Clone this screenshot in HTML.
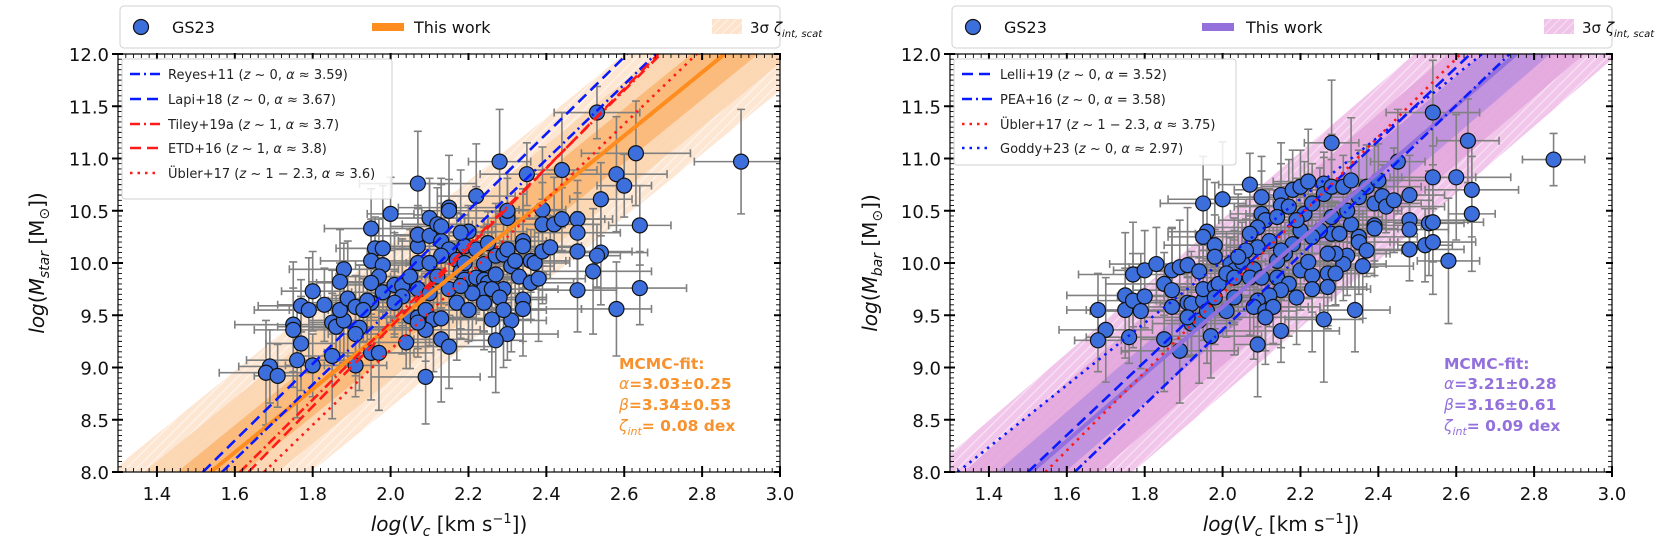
<!DOCTYPE html>
<html><head><meta charset="utf-8"><style>
html,body{margin:0;padding:0;background:#fff;width:1660px;height:549px;overflow:hidden;position:relative}
svg{display:block;font-family:"DejaVu Sans","Liberation Sans",sans-serif}
</style></head><body>
<svg id="fig" xmlns="http://www.w3.org/2000/svg" width="1660" height="549" viewBox="0 0 1660 549" style="position:absolute;left:0;top:0">
<defs>
<pattern id="hatchO" patternUnits="userSpaceOnUse" width="7" height="7" patternTransform="rotate(45)">
<rect width="7" height="7" fill="#fde6d2"/><line x1="0" y1="0" x2="0" y2="7" stroke="#fff" stroke-width="2.5" opacity="0.6"/></pattern>
<pattern id="hatchP" patternUnits="userSpaceOnUse" width="7" height="7" patternTransform="rotate(45)">
<rect width="7" height="7" fill="#f1c6ea"/><line x1="0" y1="0" x2="0" y2="7" stroke="#fff" stroke-width="2.5" opacity="0.5"/></pattern>
<clipPath id="clipL"><rect x="118" y="54" width="662" height="418"/></clipPath>
<clipPath id="clipR"><rect x="950" y="54" width="662" height="418"/></clipPath>
</defs>
</svg>
<script>
// ---------- data ----------
const starX=[1.69,1.68,1.71,1.75,1.75,1.77,1.76,1.80,1.77,1.79,1.80,1.83,1.85,1.86,1.85,1.88,1.87,1.89,1.91,1.88,1.87,1.95,2.00,2.07,1.96,1.98,1.95,1.98,1.97,1.95,1.98,2.01,2.03,1.95,1.94,1.93,1.92,1.91,1.95,1.97,1.91,2.04,2.05,2.07,2.09,2.11,2.13,2.13,2.15,2.09,2.07,2.07,2.07,2.10,2.10,2.12,2.15,2.15,2.13,2.15,2.17,2.18,2.19,2.20,2.22,2.19,2.22,2.24,2.25,2.27,2.24,2.21,2.17,2.20,2.24,2.27,2.29,2.30,2.31,2.29,2.26,2.28,2.34,2.34,2.36,2.37,2.32,2.33,2.36,2.39,2.41,2.38,2.34,2.34,2.26,2.31,2.30,2.27,2.30,2.30,2.28,2.35,2.39,2.39,2.42,2.44,2.44,2.48,2.48,2.48,2.54,2.54,2.53,2.52,2.48,2.58,2.58,2.60,2.53,2.63,2.64,2.64,2.13,2.19,2.22,2.10,2.05,2.03,2.01,2.15,2.18,2.12,2.07,2.10,2.25,2.18,2.13,2.24,2.29,2.09,2.07,2.90];
const starY=[9.01,8.95,8.92,9.41,9.36,9.23,9.07,9.02,9.59,9.55,9.73,9.60,9.43,9.39,9.11,9.45,9.55,9.66,9.58,9.94,9.82,10.33,10.47,10.76,10.14,10.14,10.02,9.98,9.87,9.81,9.72,9.79,9.78,9.62,9.64,9.55,9.38,9.32,9.14,9.14,9.02,9.24,9.49,9.48,9.55,9.46,9.47,9.27,9.20,8.91,10.00,10.16,10.27,10.26,10.43,10.37,10.53,10.50,10.21,10.13,10.03,9.92,10.16,10.30,10.64,9.84,9.86,9.84,9.81,9.89,9.75,9.71,9.62,9.55,9.99,10.07,10.08,10.13,9.97,9.75,9.75,9.67,10.21,10.16,10.02,10.00,10.02,9.87,9.81,10.11,10.15,9.85,9.65,9.56,9.46,9.45,9.32,9.26,10.43,10.50,10.97,10.85,10.51,10.37,10.37,10.89,10.42,10.42,10.29,10.11,10.61,10.10,10.07,9.92,9.74,9.56,10.85,10.74,11.44,11.05,10.36,9.76,10.07,10.00,10.13,10.00,9.87,9.68,9.62,9.75,9.78,9.87,9.75,9.71,10.19,10.29,10.35,9.62,9.55,9.36,9.43,10.97];
const barX=[1.68,1.70,1.68,1.75,1.75,1.77,1.79,1.80,1.76,1.77,1.80,1.83,1.85,1.85,1.87,1.87,1.89,1.91,1.94,1.91,1.92,1.95,1.87,1.89,1.92,1.94,1.97,1.95,1.98,1.99,2.02,2.03,2.05,2.08,1.96,1.95,1.98,1.98,1.95,2.00,2.07,2.10,2.15,2.18,2.20,2.22,2.26,2.28,2.15,2.17,2.10,2.11,2.14,2.21,2.23,2.26,2.28,2.31,2.33,2.37,2.35,2.39,2.41,2.42,2.44,2.48,2.40,2.45,2.54,2.60,2.63,2.64,2.64,2.48,2.48,2.53,2.54,2.52,2.54,2.48,2.58,2.39,2.39,2.35,2.35,2.37,2.36,2.32,2.31,2.29,2.28,2.25,2.23,2.20,2.18,2.16,2.14,2.12,2.09,2.07,2.09,2.06,2.04,2.01,2.03,2.07,2.10,2.14,2.17,2.20,2.23,2.27,2.29,2.23,2.27,2.19,2.15,2.12,2.09,2.08,2.11,2.13,2.09,2.15,2.26,2.34,2.11,2.03,1.98,2.01,1.96,1.91,2.22,2.27,2.30,2.33,2.19,2.15,2.28,2.32,2.85,2.54];
const barY=[9.55,9.36,9.26,9.69,9.55,9.64,9.54,9.68,9.29,9.89,9.93,9.99,9.27,9.80,9.74,9.93,9.96,9.98,9.92,9.62,9.61,9.64,9.58,9.16,9.42,9.45,9.30,9.75,9.77,9.80,9.99,9.93,10.01,9.94,10.30,10.25,10.17,10.06,10.57,10.61,10.75,10.63,10.65,10.70,10.73,10.78,10.76,11.15,10.55,10.54,10.47,10.41,10.44,10.47,10.57,10.66,10.73,10.73,10.79,10.73,10.63,10.57,10.64,10.54,10.60,10.65,10.79,10.97,10.82,10.82,11.17,10.70,10.47,10.41,10.32,10.38,10.39,10.17,10.20,10.13,10.02,10.36,10.33,10.25,10.20,10.12,9.97,10.07,9.99,10.09,10.28,10.31,10.25,10.31,10.18,10.09,10.02,10.21,10.34,10.28,10.15,10.12,10.06,9.90,9.86,9.86,9.86,9.86,9.80,9.93,9.88,9.90,9.90,9.75,9.77,9.67,9.74,9.69,9.64,9.58,9.54,9.58,9.22,9.35,9.46,9.55,9.48,9.67,9.67,9.54,9.54,9.48,10.01,10.09,10.28,10.37,10.41,10.12,10.44,10.50,10.99,11.44];
const xErr=[0.08,0.12,0.06,0.15,0.10,0.09,0.13,0.07,0.11,0.14];
const yErr=[0.35,0.50,0.30,0.60,0.40,0.45,0.55,0.30,0.25,0.50,0.38];
const xTicks=[1.4,1.6,1.8,2.0,2.2,2.4,2.6,2.8,3.0];
const yTicks=[8.0,8.5,9.0,9.5,10.0,10.5,11.0,11.5,12.0];
const fitL={alpha:3.03,beta:3.34,sig:0.26};
const fitR={alpha:3.21,beta:3.16,sig:0.28};
const refNamesL=["Reyes+11","Lapi+18","Tiley+19a","ETD+16","Übler+17"];
const refAlphaL=[3.59,3.67,3.7,3.8,3.6];
const refX8L=[1.567,1.518,1.613,1.635,1.675];
const refNamesR=["Lelli+19","PEA+16","Übler+17","Goddy+23"];
const refAlphaR=[3.52,3.58,3.75,2.97];
const refX8R=[1.50,1.62,1.545,1.32];

const NS="http://www.w3.org/2000/svg";
const svg=document.getElementById('fig');
function el(tag,attrs,parent){const e=document.createElementNS(NS,tag);for(const k in attrs)e.setAttribute(k,attrs[k]);(parent||svg).appendChild(e);return e;}

// clip polygon (data coords) to the axes box
function clipPoly(pts,xmin,xmax,ymin,ymax){
  const edges=[[p=>p[0]>=xmin,(a,b)=>{const t=(xmin-a[0])/(b[0]-a[0]);return [xmin,a[1]+t*(b[1]-a[1])];}],
               [p=>p[0]<=xmax,(a,b)=>{const t=(xmax-a[0])/(b[0]-a[0]);return [xmax,a[1]+t*(b[1]-a[1])];}],
               [p=>p[1]>=ymin,(a,b)=>{const t=(ymin-a[1])/(b[1]-a[1]);return [a[0]+t*(b[0]-a[0]),ymin];}],
               [p=>p[1]<=ymax,(a,b)=>{const t=(ymax-a[1])/(b[1]-a[1]);return [a[0]+t*(b[0]-a[0]),ymax];}]];
  let out=pts;
  edges.forEach(([inside,inter])=>{
    const inp=out;out=[];
    for(let i=0;i<inp.length;i++){
      const cur=inp[i],prev=inp[(i+inp.length-1)%inp.length];
      if(inside(cur)){if(!inside(prev))out.push(inter(prev,cur));out.push(cur);}
      else if(inside(prev))out.push(inter(prev,cur));
    }
  });
  return out;
}
// line y = a*x + b restricted to the box
function lineSeg(a,b){
  let xa=Math.max(1.3,(8-b)/a),xb=Math.min(3.0,(12-b)/a);
  return [[xa,a*xa+b],[xb,a*xb+b]];
}

function panel(P){
  const x0=P.left,w=662,yTop=54,h=418;
  const X=v=>x0+(v-1.3)/1.7*w;
  const Y=v=>yTop+(12-v)/4*h;
  const g=el('g',{});
  
  
  const cg=el('g',{'clip-path':'url(#'+P.clip+')'},g);
  const fills=[P.hatch,P.c2,P.c1];
  [3,2,1].forEach((k,i)=>{
    const d=k*P.fit.sig, a=P.fit.alpha, b=P.fit.beta;
    const xa=1.0,xb=3.3;
    const raw=[[xa,a*xa+b+d],[xb,a*xb+b+d],[xb,a*xb+b-d],[xa,a*xa+b-d]];
    const pts=clipPoly(raw,1.3,3.0,8,12).map(p=>X(p[0])+','+Y(p[1])).join(' ');
    const pg=el('polygon',{points:pts,fill:fills[i],opacity:i==0?1:0.85},cg);
    
    
  });
  const eg=el('g',{stroke:'#808080','stroke-width':1.6,fill:'none'},cg);
  P.xs.forEach((xv,i)=>{
    const ex=xErr[i%xErr.length],ey=yErr[i%yErr.length];
    const cx=X(xv),cy=Y(P.ys[i]);
    const xl=X(xv-ex),xr=X(xv+ex),yt=Y(P.ys[i]+ey),yb=Y(P.ys[i]-ey);
    const p=el('path',{d:`M${xl},${cy}H${xr}M${xl},${cy-4}v8M${xr},${cy-4}v8M${cx},${yt}V${yb}M${cx-4},${yt}h8M${cx-4},${yb}h8`},eg);
    
    
  });
  P.xs.forEach((xv,i)=>{
    const c=el('circle',{cx:X(xv),cy:Y(P.ys[i]),r:7.5,fill:'#3d6fdc',stroke:'#111','stroke-width':1.2},cg);
    
    
  });
  const fs=lineSeg(P.fit.alpha,P.fit.beta);
  const fl=el('line',{x1:X(fs[0][0]),y1:Y(fs[0][1]),x2:X(fs[1][0]),y2:Y(fs[1][1]),stroke:P.lc,'stroke-width':4},cg);
  
  
  P.refA.forEach((a,i)=>{
    const x8=P.refX8[i];
    const s=lineSeg(a,8-a*x8);
    const l=el('line',{x1:X(s[0][0]),y1:Y(s[0][1]),x2:X(s[1][0]),y2:Y(s[1][1]),stroke:P.refCol[i],'stroke-width':2.6,'stroke-dasharray':P.refDash[i]},cg);
    
    
  });
  el('rect',{x:x0,y:yTop,width:w,height:h,fill:'none',stroke:'#000','stroke-width':1.2},g);
  const tg=el('g',{stroke:'#000'},g);
  for(let v=1.3;v<=3.0001;v+=0.02){const xx=X(v);el('path',{d:`M${xx},${yTop+h}v-4M${xx},${yTop}v4`,'stroke-width':0.9},tg);}
  for(let v=8;v<=12.0001;v+=0.05){const yy=Y(v);el('path',{d:`M${x0},${yy}h4M${x0+w},${yy}h-4`,'stroke-width':0.9},tg);}
  xTicks.forEach(v=>{const xx=X(v);el('path',{d:`M${xx},${yTop+h+5}v-11M${xx},${yTop-1}v7`,'stroke-width':2},tg);
    const t=el('text',{x:xx,y:yTop+h+28,'text-anchor':'middle','font-size':18,fill:'#111',stroke:'none'},g);t.textContent=v.toFixed(1);
    });
  yTicks.forEach(v=>{const yy=Y(v);el('path',{d:`M${x0-6},${yy}h11M${x0+w+1},${yy}h-7`,'stroke-width':2},tg);
    const t=el('text',{x:x0-9,y:yy+7,'text-anchor':'end','font-size':18,fill:'#111',stroke:'none'},g);t.textContent=v.toFixed(1);
    });
  return {X,Y};
}

const L=panel({id:'stellar',left:118,clip:'clipL',xs:starX,ys:starY,fit:fitL,hatch:'url(#hatchO)',c2:'#fcd3ae',c1:'#f9b673',lc:'#ff8c1e',
  refA:refAlphaL,refX8:refX8L,refNames:refNamesL,refCol:['#0a1aff','#0a1aff','#ff1a1a','#ff1a1a','#ff1a1a'],
  refDash:['10,4,2,4','11,6','10,4,2,4','11,6','2.5,5']});
const R=panel({id:'baryonic',left:950,clip:'clipR',xs:barX,ys:barY,fit:fitR,hatch:'url(#hatchP)',c2:'#e3a6dc',c1:'#bb8ede',lc:'#9370db',
  refA:refAlphaR,refX8:refX8R,refNames:refNamesR,refCol:['#0a1aff','#0a1aff','#ff1a1a','#0a1aff'],
  refDash:['11,6','10,4,2,4','2.5,5','2.5,5']});
</script>

<svg style="position:absolute;left:0;top:0" width="1660" height="549" xmlns="http://www.w3.org/2000/svg" font-family="DejaVu Sans, Liberation Sans, sans-serif">
<defs>
<pattern id="hatchO2" patternUnits="userSpaceOnUse" width="6" height="6" patternTransform="rotate(45)"><rect width="6" height="6" fill="#fde3cc"/><line x1="0" y1="0" x2="0" y2="6" stroke="#fff" stroke-width="2" opacity="0.6"/></pattern>
<pattern id="hatchP2" patternUnits="userSpaceOnUse" width="6" height="6" patternTransform="rotate(45)"><rect width="6" height="6" fill="#f0c4e8"/><line x1="0" y1="0" x2="0" y2="6" stroke="#fff" stroke-width="2" opacity="0.5"/></pattern>
</defs>
<g>
<rect x="120" y="6" width="660" height="42" rx="4" fill="#fff" stroke="#d0d0d0"/>
<circle cx="141" cy="27" r="7.5" fill="#3d6fdc" stroke="#111" stroke-width="1.2"/>
<text x="172" y="33" font-size="16" fill="#111">GS23</text>
<rect x="372" y="23" width="32" height="8" fill="#ff8c1e"/>
<text x="414" y="33" font-size="16" fill="#111">This work</text>
<rect x="712" y="19" width="30" height="15" fill="url(#hatchO2)"/>
<text x="750" y="33" font-size="15" fill="#111">3σ <tspan font-style="italic">ζ</tspan><tspan font-size="10" dy="4" font-style="italic">int, scat</tspan></text>
</g>
<g>
<rect x="952" y="6" width="660" height="42" rx="4" fill="#fff" stroke="#d0d0d0"/>
<circle cx="973" cy="27" r="7.5" fill="#3d6fdc" stroke="#111" stroke-width="1.2"/>
<text x="1004" y="33" font-size="16" fill="#111">GS23</text>
<rect x="1202" y="23" width="32" height="8" fill="#9370db"/>
<text x="1246" y="33" font-size="16" fill="#111">This work</text>
<rect x="1544" y="19" width="30" height="15" fill="url(#hatchP2)"/>
<text x="1582" y="33" font-size="15" fill="#111">3σ <tspan font-style="italic">ζ</tspan><tspan font-size="10" dy="4" font-style="italic">int, scat</tspan></text>
</g>
<g font-size="13" fill="#222">
<rect x="122" y="59" width="270" height="140" rx="3" fill="#fff" fill-opacity="0.85" stroke="#d0d0d0"/>
<line x1="130" y1="74" x2="160" y2="74" stroke="#0a1aff" stroke-width="2.6" stroke-dasharray="10,4,2,4"/>
<text x="168" y="79">Reyes+11 (<tspan font-style="italic">z</tspan> ~ 0, <tspan font-style="italic">α</tspan> ≈ 3.59)</text>
<line x1="130" y1="99" x2="160" y2="99" stroke="#0a1aff" stroke-width="2.6" stroke-dasharray="11,6"/>
<text x="168" y="104">Lapi+18 (<tspan font-style="italic">z</tspan> ~ 0, <tspan font-style="italic">α</tspan> ≈ 3.67)</text>
<line x1="130" y1="124" x2="160" y2="124" stroke="#ff1a1a" stroke-width="2.6" stroke-dasharray="10,4,2,4"/>
<text x="168" y="129">Tiley+19a (<tspan font-style="italic">z</tspan> ~ 1, <tspan font-style="italic">α</tspan> ≈ 3.7)</text>
<line x1="130" y1="148" x2="160" y2="148" stroke="#ff1a1a" stroke-width="2.6" stroke-dasharray="11,6"/>
<text x="168" y="153">ETD+16 (<tspan font-style="italic">z</tspan> ~ 1, <tspan font-style="italic">α</tspan> ≈ 3.8)</text>
<line x1="130" y1="173" x2="160" y2="173" stroke="#ff1a1a" stroke-width="2.6" stroke-dasharray="2.5,5"/>
<text x="168" y="178">Übler+17 (<tspan font-style="italic">z</tspan> ~ 1 − 2.3, <tspan font-style="italic">α</tspan> ≈ 3.6)</text>
</g>
<g font-size="13" fill="#222">
<rect x="954" y="59" width="282" height="106" rx="3" fill="#fff" fill-opacity="0.85" stroke="#d0d0d0"/>
<line x1="962" y1="74" x2="992" y2="74" stroke="#0a1aff" stroke-width="2.6" stroke-dasharray="11,6"/>
<text x="1000" y="79">Lelli+19 (<tspan font-style="italic">z</tspan> ~ 0, <tspan font-style="italic">α</tspan> = 3.52)</text>
<line x1="962" y1="99" x2="992" y2="99" stroke="#0a1aff" stroke-width="2.6" stroke-dasharray="10,4,2,4"/>
<text x="1000" y="104">PEA+16 (<tspan font-style="italic">z</tspan> ~ 0, <tspan font-style="italic">α</tspan> = 3.58)</text>
<line x1="962" y1="124" x2="992" y2="124" stroke="#ff1a1a" stroke-width="2.6" stroke-dasharray="2.5,5"/>
<text x="1000" y="129">Übler+17 (<tspan font-style="italic">z</tspan> ~ 1 − 2.3, <tspan font-style="italic">α</tspan> ≈ 3.75)</text>
<line x1="962" y1="148" x2="992" y2="148" stroke="#0a1aff" stroke-width="2.6" stroke-dasharray="2.5,5"/>
<text x="1000" y="153">Goddy+23 (<tspan font-style="italic">z</tspan> ~ 0, <tspan font-style="italic">α</tspan> ≈ 2.97)</text>
</g>
<g font-size="15.5" font-weight="bold" fill="#f7922e">
<text x="619" y="369">MCMC-fit:</text>
<text x="619" y="389"><tspan font-style="italic" font-weight="normal">α</tspan>=3.03±0.25</text>
<text x="619" y="410"><tspan font-style="italic" font-weight="normal">β</tspan>=3.34±0.53</text>
<text x="619" y="431"><tspan font-style="italic" font-weight="normal">ζ</tspan><tspan font-size="11" dy="4" font-style="italic" font-weight="normal">int</tspan><tspan dy="-4">= 0.08 dex</tspan></text>
</g>
<g font-size="15.5" font-weight="bold" fill="#9370db">
<text x="1444" y="369">MCMC-fit:</text>
<text x="1444" y="389"><tspan font-style="italic" font-weight="normal">α</tspan>=3.21±0.28</text>
<text x="1444" y="410"><tspan font-style="italic" font-weight="normal">β</tspan>=3.16±0.61</text>
<text x="1444" y="431"><tspan font-style="italic" font-weight="normal">ζ</tspan><tspan font-size="11" dy="4" font-style="italic" font-weight="normal">int</tspan><tspan dy="-4">= 0.09 dex</tspan></text>
</g>
<text x="449" y="531" text-anchor="middle" font-size="20" fill="#111"><tspan font-style="italic">log</tspan>(<tspan font-style="italic">V</tspan><tspan font-size="14" dy="5" font-style="italic">c</tspan><tspan dy="-5"> [km s</tspan><tspan font-size="13" dy="-8">−1</tspan><tspan dy="8">])</tspan></text>
<text x="1281" y="531" text-anchor="middle" font-size="20" fill="#111"><tspan font-style="italic">log</tspan>(<tspan font-style="italic">V</tspan><tspan font-size="14" dy="5" font-style="italic">c</tspan><tspan dy="-5"> [km s</tspan><tspan font-size="13" dy="-8">−1</tspan><tspan dy="8">])</tspan></text>
<text transform="translate(44,263) rotate(-90)" text-anchor="middle" font-size="20" fill="#111"><tspan font-style="italic">log</tspan>(<tspan font-style="italic">M</tspan><tspan font-size="14" dy="5" font-style="italic">star</tspan><tspan dy="-5"> [M</tspan><tspan font-size="14" dy="5">⊙</tspan><tspan dy="-5">])</tspan></text>
<text transform="translate(877,263) rotate(-90)" text-anchor="middle" font-size="20" fill="#111"><tspan font-style="italic">log</tspan>(<tspan font-style="italic">M</tspan><tspan font-size="14" dy="5" font-style="italic">bar</tspan><tspan dy="-5"> [M</tspan><tspan font-size="14" dy="5">⊙</tspan><tspan dy="-5">])</tspan></text>
</svg>
</body></html>
